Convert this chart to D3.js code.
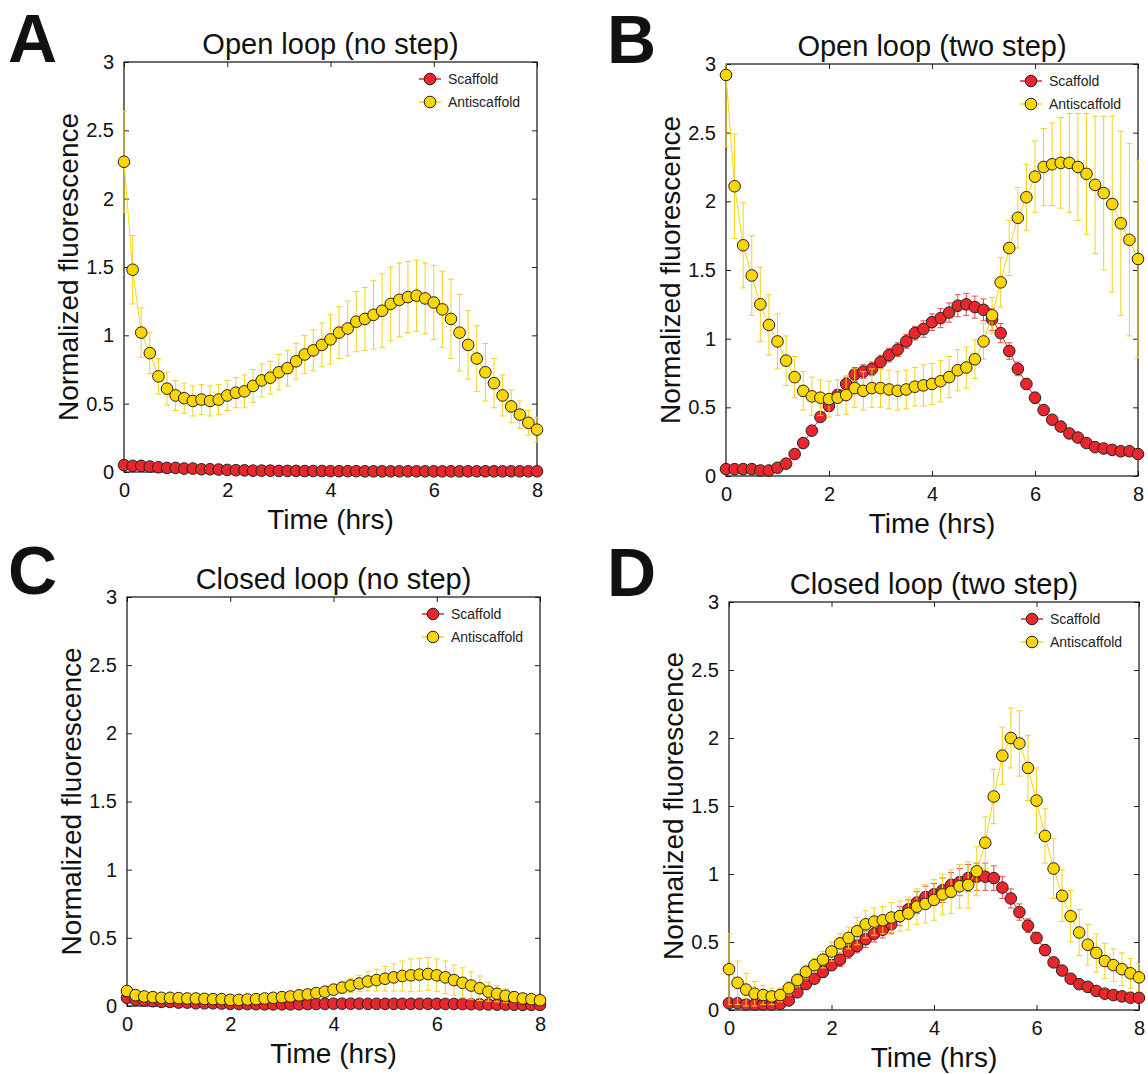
<!DOCTYPE html>
<html>
<head>
<meta charset="utf-8">
<script src="https://cdn.jsdelivr.net/npm/d3@7"></script>
<style>
  body { margin: 0; background: #fff; }
  svg { display: block; font-family: "Liberation Sans", Arial, Helvetica, sans-serif; }
</style>
</head>
<body>
<div id="chart"></div>
<script>
// Sample times (minutes)
var minutes = [0, 10, 20, 30, 40, 50, 60, 70, 80, 90,
               100, 110, 120, 130, 140, 150, 160, 170, 180, 190,
               200, 210, 220, 230, 240, 250, 260, 270, 280, 290,
               300, 310, 320, 330, 340, 350, 360, 370, 380, 390,
               400, 410, 420, 430, 440, 450, 460, 470, 480];

var xTicks = [0, 2, 4, 6, 8];
var yTicks = [0, 0.5, 1, 1.5, 2, 2.5, 3];
var yTickLabels = ["0", "0.5", "1", "1.5", "2", "2.5", "3"];
var seriesNames = ["Scaffold", "Antiscaffold"];
var panelLetters = ["A", "B", "C", "D"];
var panelTitles = ["Open loop (no step)", "Open loop (two step)", "Closed loop (no step)", "Closed loop (two step)"];

// A - open loop, no step
var openNoStepScaffold = [0.05, 0.045, 0.045, 0.04, 0.035, 0.03, 0.03, 0.025, 0.025, 0.02,
                          0.02, 0.018, 0.015, 0.013, 0.012, 0.01, 0.01, 0.01, 0.008, 0.008,
                          0.008, 0.007, 0.007, 0.007, 0.006, 0.006, 0.006, 0.006, 0.005, 0.005,
                          0.005, 0.005, 0.005, 0.005, 0.005, 0.005, 0.005, 0.005, 0.005, 0.005,
                          0.005, 0.005, 0.005, 0.005, 0.005, 0.005, 0.005, 0.005, 0.005];
var openNoStepScaffoldErr = [0.01, 0.01, 0.01, 0.01, 0.01, 0.01, 0.01, 0.01, 0.01, 0.01,
                             0.01, 0.01, 0.01, 0.01, 0.01, 0.01, 0.01, 0.01, 0.01, 0.01,
                             0.01, 0.01, 0.01, 0.01, 0.01, 0.01, 0.01, 0.01, 0.01, 0.01,
                             0.01, 0.01, 0.01, 0.01, 0.01, 0.01, 0.01, 0.01, 0.01, 0.01,
                             0.01, 0.01, 0.01, 0.01, 0.01, 0.01, 0.01, 0.01, 0.01];
var openNoStepAnti = [2.27, 1.48, 1.02, 0.87, 0.70, 0.61, 0.56, 0.54, 0.52, 0.53,
                      0.52, 0.53, 0.56, 0.58, 0.59, 0.63, 0.67, 0.69, 0.73, 0.76,
                      0.81, 0.86, 0.89, 0.93, 0.97, 1.02, 1.05, 1.10, 1.12, 1.15,
                      1.18, 1.23, 1.26, 1.28, 1.29, 1.27, 1.24, 1.19, 1.12, 1.02,
                      0.93, 0.83, 0.73, 0.65, 0.56, 0.48, 0.42, 0.36, 0.31];
var openNoStepAntiErr = [0.37, 0.25, 0.18, 0.15, 0.13, 0.12, 0.11, 0.11, 0.11, 0.11,
                         0.11, 0.11, 0.11, 0.11, 0.12, 0.12, 0.12, 0.12, 0.13, 0.13,
                         0.13, 0.14, 0.15, 0.16, 0.18, 0.19, 0.20, 0.22, 0.23, 0.25,
                         0.27, 0.27, 0.27, 0.26, 0.26, 0.26, 0.27, 0.28, 0.29, 0.28,
                         0.25, 0.24, 0.21, 0.18, 0.15, 0.12, 0.10, 0.09, 0.09];

// B - open loop, two step
var openTwoStepScaffold = [0.05, 0.05, 0.05, 0.05, 0.04, 0.04, 0.06, 0.09, 0.16, 0.24,
                           0.33, 0.43, 0.51, 0.59, 0.67, 0.74, 0.76, 0.78, 0.83, 0.88,
                           0.92, 0.98, 1.04, 1.07, 1.12, 1.15, 1.19, 1.24, 1.25, 1.23,
                           1.21, 1.14, 1.04, 0.91, 0.78, 0.67, 0.57, 0.48, 0.41, 0.36,
                           0.31, 0.28, 0.24, 0.21, 0.20, 0.19, 0.18, 0.18, 0.16];
var openTwoStepScaffoldErr = [0.01, 0.01, 0.01, 0.01, 0.01, 0.01, 0.01, 0.02, 0.02, 0.03,
                              0.03, 0.03, 0.04, 0.04, 0.05, 0.05, 0.05, 0.05, 0.05, 0.05,
                              0.05, 0.05, 0.05, 0.06, 0.06, 0.07, 0.07, 0.08, 0.08, 0.08,
                              0.08, 0.08, 0.07, 0.06, 0.05, 0.04, 0.04, 0.03, 0.03, 0.02,
                              0.02, 0.02, 0.02, 0.02, 0.02, 0.02, 0.02, 0.02, 0.02];
var openTwoStepAnti = [2.92, 2.11, 1.68, 1.46, 1.25, 1.10, 0.98, 0.84, 0.72, 0.62,
                       0.58, 0.57, 0.56, 0.57, 0.59, 0.64, 0.62, 0.64, 0.64, 0.63,
                       0.62, 0.63, 0.65, 0.66, 0.67, 0.69, 0.72, 0.77, 0.79, 0.85,
                       0.98, 1.17, 1.41, 1.66, 1.88, 2.03, 2.18, 2.25, 2.27, 2.28,
                       2.28, 2.25, 2.20, 2.12, 2.06, 1.98, 1.84, 1.72, 1.58];
var openTwoStepAntiErr = [0.52, 0.38, 0.31, 0.29, 0.27, 0.22, 0.20, 0.18, 0.15, 0.14,
                          0.14, 0.13, 0.13, 0.13, 0.14, 0.14, 0.14, 0.14, 0.14, 0.14,
                          0.14, 0.14, 0.14, 0.15, 0.15, 0.15, 0.15, 0.15, 0.15, 0.14,
                          0.13, 0.13, 0.18, 0.20, 0.22, 0.24, 0.26, 0.28, 0.30, 0.33,
                          0.36, 0.39, 0.44, 0.50, 0.56, 0.64, 0.67, 0.70, 0.72];

// C - closed loop, no step
var closedNoStepScaffold = [0.06, 0.045, 0.04, 0.035, 0.03, 0.03, 0.025, 0.025, 0.02, 0.02,
                            0.02, 0.018, 0.016, 0.015, 0.014, 0.013, 0.012, 0.012, 0.012, 0.012,
                            0.013, 0.014, 0.015, 0.016, 0.017, 0.017, 0.017, 0.017, 0.016, 0.016,
                            0.016, 0.016, 0.016, 0.016, 0.016, 0.016, 0.016, 0.015, 0.015, 0.014,
                            0.013, 0.012, 0.011, 0.01, 0.01, 0.009, 0.008, 0.008, 0.008];
var closedNoStepScaffoldErr = [0.01, 0.01, 0.01, 0.01, 0.01, 0.01, 0.01, 0.01, 0.01, 0.01,
                               0.01, 0.01, 0.01, 0.01, 0.01, 0.01, 0.01, 0.01, 0.01, 0.01,
                               0.01, 0.01, 0.01, 0.01, 0.01, 0.01, 0.01, 0.01, 0.01, 0.01,
                               0.01, 0.01, 0.01, 0.01, 0.01, 0.01, 0.01, 0.01, 0.01, 0.01,
                               0.01, 0.01, 0.01, 0.01, 0.01, 0.01, 0.01, 0.01, 0.01];
var closedNoStepAnti = [0.11, 0.08, 0.07, 0.065, 0.06, 0.06, 0.058, 0.055, 0.055, 0.052,
                        0.05, 0.05, 0.045, 0.045, 0.048, 0.05, 0.055, 0.06, 0.065, 0.07,
                        0.078, 0.085, 0.095, 0.105, 0.12, 0.135, 0.15, 0.165, 0.18, 0.19,
                        0.20, 0.21, 0.22, 0.225, 0.23, 0.235, 0.225, 0.21, 0.19, 0.17,
                        0.15, 0.13, 0.105, 0.09, 0.075, 0.065, 0.055, 0.05, 0.042];
var closedNoStepAntiErr = [0.02, 0.01, 0.01, 0.01, 0.01, 0.01, 0.01, 0.01, 0.01, 0.01,
                           0.01, 0.01, 0.01, 0.01, 0.01, 0.01, 0.01, 0.012, 0.014, 0.016,
                           0.018, 0.02, 0.025, 0.03, 0.035, 0.04, 0.05, 0.06, 0.07, 0.08,
                           0.09, 0.10, 0.11, 0.12, 0.12, 0.12, 0.12, 0.12, 0.11, 0.11,
                           0.10, 0.09, 0.07, 0.06, 0.05, 0.04, 0.03, 0.02, 0.02];

// D - closed loop, two step
var closedTwoStepScaffold = [0.05, 0.05, 0.04, 0.04, 0.04, 0.04, 0.045, 0.07, 0.13, 0.19,
                             0.23, 0.28, 0.33, 0.37, 0.43, 0.47, 0.52, 0.56, 0.59, 0.63,
                             0.69, 0.74, 0.79, 0.83, 0.85, 0.88, 0.92, 0.94, 0.97, 0.98,
                             0.98, 0.97, 0.90, 0.82, 0.72, 0.62, 0.53, 0.44, 0.35, 0.29,
                             0.23, 0.19, 0.17, 0.14, 0.12, 0.11, 0.10, 0.09, 0.09];
var closedTwoStepScaffoldErr = [0.02, 0.02, 0.02, 0.02, 0.02, 0.02, 0.02, 0.02, 0.03, 0.03,
                                0.03, 0.04, 0.04, 0.05, 0.05, 0.05, 0.06, 0.06, 0.06, 0.07,
                                0.07, 0.07, 0.08, 0.08, 0.08, 0.09, 0.09, 0.10, 0.10, 0.10,
                                0.10, 0.09, 0.08, 0.07, 0.06, 0.05, 0.04, 0.04, 0.03, 0.03,
                                0.02, 0.02, 0.02, 0.02, 0.02, 0.02, 0.02, 0.02, 0.02];
var closedTwoStepAnti = [0.30, 0.20, 0.15, 0.12, 0.11, 0.10, 0.11, 0.16, 0.22, 0.28,
                         0.33, 0.37, 0.43, 0.49, 0.53, 0.58, 0.63, 0.65, 0.66, 0.68,
                         0.69, 0.71, 0.76, 0.78, 0.81, 0.85, 0.87, 0.91, 0.92, 1.02,
                         1.23, 1.57, 1.87, 2.00, 1.96, 1.78, 1.54, 1.28, 1.04, 0.84,
                         0.69, 0.57, 0.48, 0.42, 0.36, 0.33, 0.30, 0.27, 0.24];
var closedTwoStepAntiErr = [0.26, 0.16, 0.12, 0.09, 0.07, 0.06, 0.05, 0.05, 0.05, 0.05,
                            0.05, 0.06, 0.07, 0.07, 0.08, 0.10, 0.10, 0.10, 0.10, 0.11,
                            0.11, 0.12, 0.13, 0.14, 0.15, 0.15, 0.16, 0.16, 0.17, 0.18,
                            0.19, 0.20, 0.21, 0.22, 0.24, 0.24, 0.24, 0.20, 0.22, 0.19,
                            0.19, 0.17, 0.15, 0.14, 0.13, 0.12, 0.12, 0.11, 0.10];

// Colours
var red = "#e8262b", redBar = "#ec4a4e";
var yellow = "#fcd600", yellowBar = "#f7d21a";
var colors = [red, yellow];
var barColors = [redBar, yellowBar];

// Panel layout (plot area box, letter position)
var panels = [
    {left: 124, top: 62,  width: 413, height: 410, letterX: 8,   letterY: 62,
     series: [[openNoStepScaffold, openNoStepScaffoldErr], [openNoStepAnti, openNoStepAntiErr]]},
    {left: 726, top: 64,  width: 412, height: 412, letterX: 607, letterY: 63,
     series: [[openTwoStepScaffold, openTwoStepScaffoldErr], [openTwoStepAnti, openTwoStepAntiErr]]},
    {left: 127, top: 597, width: 413, height: 409, letterX: 8,   letterY: 594,
     series: [[closedNoStepScaffold, closedNoStepScaffoldErr], [closedNoStepAnti, closedNoStepAntiErr]]},
    {left: 729, top: 602, width: 410, height: 408, letterX: 607, letterY: 596,
     series: [[closedTwoStepScaffold, closedTwoStepScaffoldErr], [closedTwoStepAnti, closedTwoStepAntiErr]]}
];

var svg = d3.select("#chart")
            .append("svg")
            .attr("width", 1148)
            .attr("height", 1074);

var hours = minutes.map(function(m) { return m / 60; });
var markerR = 5.8;
var capW = 3;
var tickLen = 5;

panels.forEach(function(p, pi) {
    var x = d3.scaleLinear().domain([0, 8]).range([0, p.width]);
    var y = d3.scaleLinear().domain([0, 3]).range([p.height, 0]);

    // panel letter
    svg.append("text")
       .attr("x", p.letterX)
       .attr("y", p.letterY)
       .attr("font-size", 68)
       .attr("font-weight", "bold")
       .attr("fill", "#111")
       .text(panelLetters[pi]);

    var g = svg.append("g")
               .attr("transform", "translate(" + p.left + "," + p.top + ")");

    g.append("clipPath")
     .attr("id", "clip" + pi)
     .append("rect")
     .attr("x", -1).attr("y", -1)
     .attr("width", p.width + 2).attr("height", p.height + 2);

    // title
    g.append("text")
     .attr("x", p.width / 2)
     .attr("y", -8)
     .attr("text-anchor", "middle")
     .attr("font-size", 29)
     .attr("fill", "#111")
     .text(panelTitles[pi]);

    // axes: MATLAB style, ticks inward on all four sides
    var bottom = d3.axisBottom(x).tickValues(xTicks).tickSizeInner(-tickLen).tickSizeOuter(0).tickPadding(tickLen + 6);
    var left = d3.axisLeft(y).tickValues(yTicks).tickSizeInner(-tickLen).tickSizeOuter(0).tickPadding(tickLen + 5)
                 .tickFormat(function(d, i) { return yTickLabels[i]; });
    var top = d3.axisTop(x).tickValues(xTicks).tickSizeInner(-tickLen).tickSizeOuter(0).tickFormat("");
    var right = d3.axisRight(y).tickValues(yTicks).tickSizeInner(-tickLen).tickSizeOuter(0).tickFormat("");

    var axes = [
        g.append("g").attr("transform", "translate(0," + p.height + ")").call(bottom),
        g.append("g").call(left),
        g.append("g").call(top),
        g.append("g").attr("transform", "translate(" + p.width + ",0)").call(right)
    ];
    axes.forEach(function(a) {
        a.selectAll("path").remove();
        a.selectAll("line").attr("stroke", "#222");
        a.selectAll("text").attr("font-size", 20).attr("fill", "#111")
         .attr("font-family", "Liberation Sans, Arial, sans-serif");
    });

    g.append("rect")
     .attr("width", p.width)
     .attr("height", p.height)
     .attr("fill", "none")
     .attr("stroke", "#111")
     .attr("stroke-width", 1.2);

    // axis labels
    g.append("text")
     .attr("x", p.width / 2)
     .attr("y", p.height + 57)
     .attr("text-anchor", "middle")
     .attr("font-size", 28)
     .attr("fill", "#111")
     .text("Time (hrs)");

    g.append("text")
     .attr("transform", "translate(-46," + (p.height / 2) + ") rotate(-90)")
     .attr("text-anchor", "middle")
     .attr("font-size", 28)
     .attr("fill", "#111")
     .text("Normalized fluorescence");

    // data: scaffold first, antiscaffold on top
    p.series.forEach(function(s, si) {
        var vals = s[0], errs = s[1];
        var pts = vals.map(function(v, i) { return {t: hours[i], v: v, e: errs[i]}; });
        var sg = g.append("g");

        sg.append("g")
          .attr("clip-path", "url(#clip" + pi + ")")
          .attr("stroke", barColors[si])
          .attr("stroke-width", 1)
          .attr("fill", "none")
          .selectAll("path")
          .data(pts)
          .enter()
          .append("path")
          .attr("d", function(d) {
              var cx = x(d.t), y0 = y(d.v - d.e), y1 = y(d.v + d.e);
              return "M" + cx + "," + y0 + "V" + y1 +
                     "M" + (cx - capW) + "," + y0 + "H" + (cx + capW) +
                     "M" + (cx - capW) + "," + y1 + "H" + (cx + capW);
          });

        sg.append("path")
          .datum(pts)
          .attr("fill", "none")
          .attr("stroke", colors[si])
          .attr("stroke-width", 1)
          .attr("d", d3.line().x(function(d) { return x(d.t); }).y(function(d) { return y(d.v); }));

        sg.selectAll("circle")
          .data(pts)
          .enter()
          .append("circle")
          .attr("cx", function(d) { return x(d.t); })
          .attr("cy", function(d) { return y(d.v); })
          .attr("r", markerR)
          .attr("fill", colors[si])
          .attr("stroke", "#222")
          .attr("stroke-width", 1);
    });

    // legend
    var lg = g.append("g")
              .attr("transform", "translate(" + (p.width - 107) + ",17)");
    seriesNames.forEach(function(name, si) {
        var row = lg.append("g").attr("transform", "translate(0," + (si * 23) + ")");
        row.append("line")
           .attr("x1", -11).attr("x2", 11)
           .attr("stroke", colors[si])
           .attr("stroke-width", 1.5);
        row.append("circle")
           .attr("r", markerR)
           .attr("fill", colors[si])
           .attr("stroke", "#222")
           .attr("stroke-width", 1);
        row.append("text")
           .attr("x", 18)
           .attr("dy", "0.35em")
           .attr("font-size", 14)
           .attr("fill", "#222")
           .text(name);
    });
});
</script>
</body>
</html>
